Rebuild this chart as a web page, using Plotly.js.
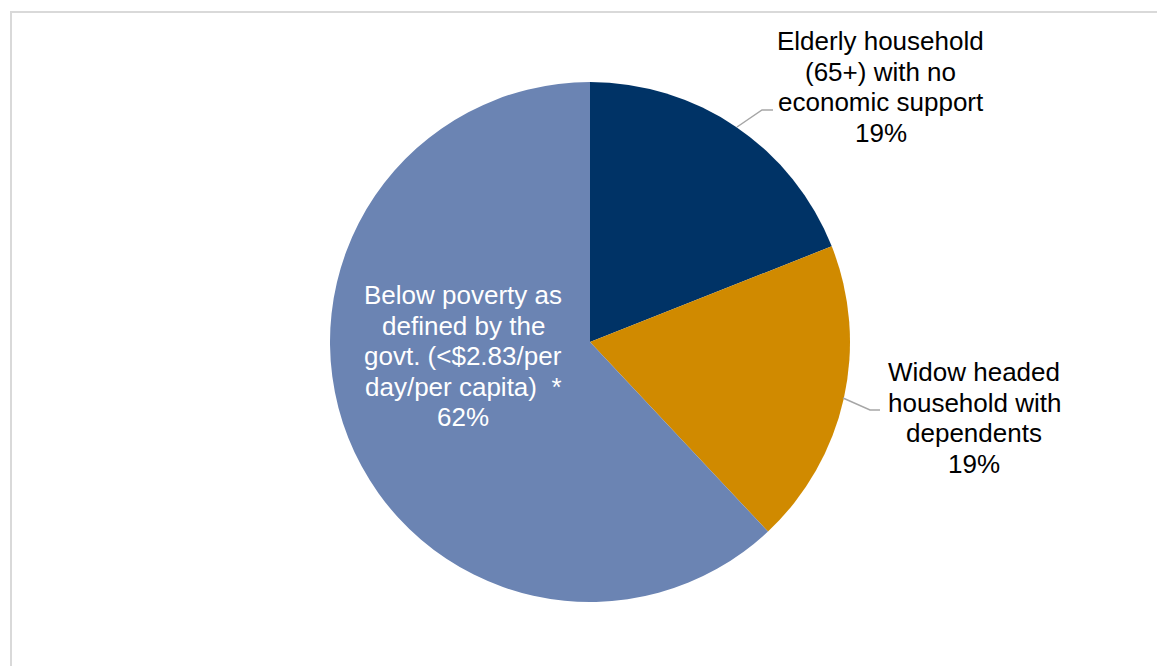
<!DOCTYPE html>
<html>
<head>
<meta charset="utf-8">
<script src="https://cdn.plot.ly/plotly-3.0.1.min.js"></script>
<style>
  html, body { margin: 0; padding: 0; background: #fff; }
  #chart { width: 1157px; height: 666px; }
</style>
</head>
<body>
<div id="chart"></div>
<script>
// Data
const categoryLines = [
  ["Elderly household", "(65+) with no", "economic support"],
  ["Widow headed", "household with", "dependents"],
  ["Below poverty as", "defined by the", "govt. (<$2.83/per", "day/per capita)  *"]
];
const categories = categoryLines.map(l => l.join(" "));
const shares = [19, 19, 62];
const colors = ["#003366", "#D08A00", "#6B84B3"];

const W = 1157, H = 666;
const px = v => v / W;
const py = v => 1 - v / H;

const trace = {
  type: "pie",
  values: shares,
  labels: categories,
  sort: false,
  direction: "clockwise",
  rotation: 0,
  textinfo: "none",
  hoverinfo: "label+percent",
  marker: { colors: colors, line: { width: 0 } },
  domain: { x: [px(330), px(850)], y: [py(602), py(82)] },
  showlegend: false
};

const labelFont = { family: "Liberation Sans, Arial, sans-serif", size: 26 };
const lineGap = 30.5;
const labelPos = [
  { x: 881, y: 87, color: "#000000" },
  { x: 974, y: 418, color: "#000000" },
  { x: 463, y: 356, color: "#FFFFFF" }
];

const annotations = [];
categoryLines.forEach((lines, i) => {
  const all = lines.concat([shares[i] + "%"]);
  const n = all.length;
  all.forEach((t, k) => {
    annotations.push({
      xref: "paper", yref: "paper",
      x: px(labelPos[i].x), y: py(labelPos[i].y + (k - (n - 1) / 2) * lineGap),
      xanchor: "center", yanchor: "middle",
      showarrow: false,
      text: t,
      font: Object.assign({}, labelFont, { color: labelPos[i].color })
    });
  });
});

const leader = (pts) => ({
  type: "path", xref: "paper", yref: "paper",
  path: pts.map((p, k) => (k ? "L" : "M") + px(p[0]) + "," + py(p[1])).join(" "),
  line: { color: "#A6A6A6", width: 1.5 }
});

const shapes = [
  leader([[737, 127], [762, 110], [773, 110]]),
  leader([[843, 398], [870, 410], [880, 410]]),
  { type: "line", xref: "paper", yref: "paper", x0: px(11), x1: px(11), y0: py(11.5), y1: py(700), line: { color: "#D9D9D9", width: 2 } },
  { type: "line", xref: "paper", yref: "paper", x0: px(10), x1: px(1200), y0: py(12), y1: py(12), line: { color: "#D9D9D9", width: 2 } }
];

const layout = {
  width: W, height: H,
  margin: { l: 0, r: 0, t: 0, b: 0 },
  paper_bgcolor: "#FFFFFF",
  annotations: annotations,
  shapes: shapes,
  showlegend: false
};

Plotly.newPlot("chart", [trace], layout, { displayModeBar: false, staticPlot: true });
</script>
</body>
</html>
